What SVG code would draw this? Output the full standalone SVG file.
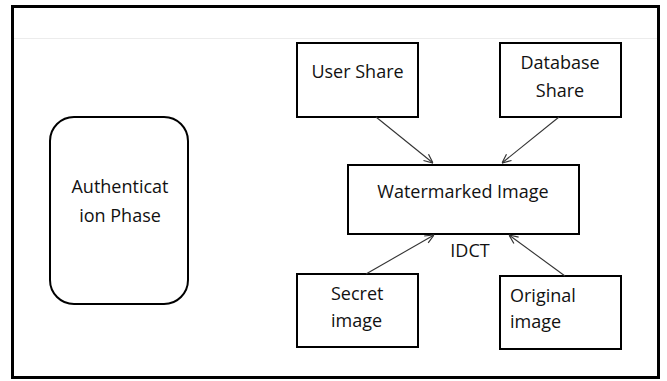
<svg xmlns="http://www.w3.org/2000/svg" width="667" height="381" viewBox="0 0 667 381">
<style>
.box{fill:#fff;stroke:#000;stroke-width:2}
.t{font-family:"Open Sans","Liberation Sans",sans-serif;font-size:18px;fill:#111}
.c{stroke:#333;stroke-width:1.1;fill:none;marker-end:url(#ah)}
</style>
<defs>
<marker id="ah" viewBox="0 0 10 10" refX="10" refY="5" markerWidth="10" markerHeight="10" markerUnits="userSpaceOnUse" orient="auto">
<path d="M1,1 L10,5 L1,9" fill="none" stroke="#333" stroke-width="1.2"/>
</marker>
</defs>
<rect x="0" y="0" width="667" height="381" fill="#fff"/>
<rect x="12.5" y="6.5" width="646" height="371" fill="#fff" stroke="#000" stroke-width="3"/>
<line x1="14" y1="38.5" x2="657" y2="38.5" stroke="#ececec" stroke-width="1"/>
<g id="auth"><rect class="box" x="50" y="117" width="138" height="187" rx="24"/>
<text class="t" x="120" y="193" text-anchor="middle">Authenticat</text>
<text class="t" x="120" y="222" text-anchor="middle">ion Phase</text></g>
<g id="user"><rect class="box" x="297" y="43" width="121" height="74"/>
<text class="t" x="357.5" y="78" text-anchor="middle">User Share</text></g>
<g id="db"><rect class="box" x="500" y="43" width="121" height="74"/>
<text class="t" x="560" y="69" text-anchor="middle">Database</text>
<text class="t" x="560" y="97" text-anchor="middle">Share</text></g>
<g id="wm"><rect class="box" x="348" y="165" width="231" height="69"/>
<text class="t" x="463" y="198" text-anchor="middle">Watermarked Image</text></g>
<g id="secret"><rect class="box" x="297" y="274" width="121" height="73"/>
<text class="t" x="331" y="300">Secret</text>
<text class="t" x="331" y="327">image</text></g>
<g id="orig"><rect class="box" x="500" y="276" width="121" height="73"/>
<text class="t" x="510" y="302">Original</text>
<text class="t" x="510" y="328">image</text></g>
<g id="connectors">
<line class="c" x1="376" y1="117" x2="433" y2="163"/>
<line class="c" x1="559" y1="117" x2="502" y2="163"/>
<line class="c" x1="366" y1="274" x2="434" y2="235"/>
<line class="c" x1="565" y1="276" x2="509" y2="235"/>
</g>
<text class="t" x="470" y="257" text-anchor="middle">IDCT</text>
</svg>
